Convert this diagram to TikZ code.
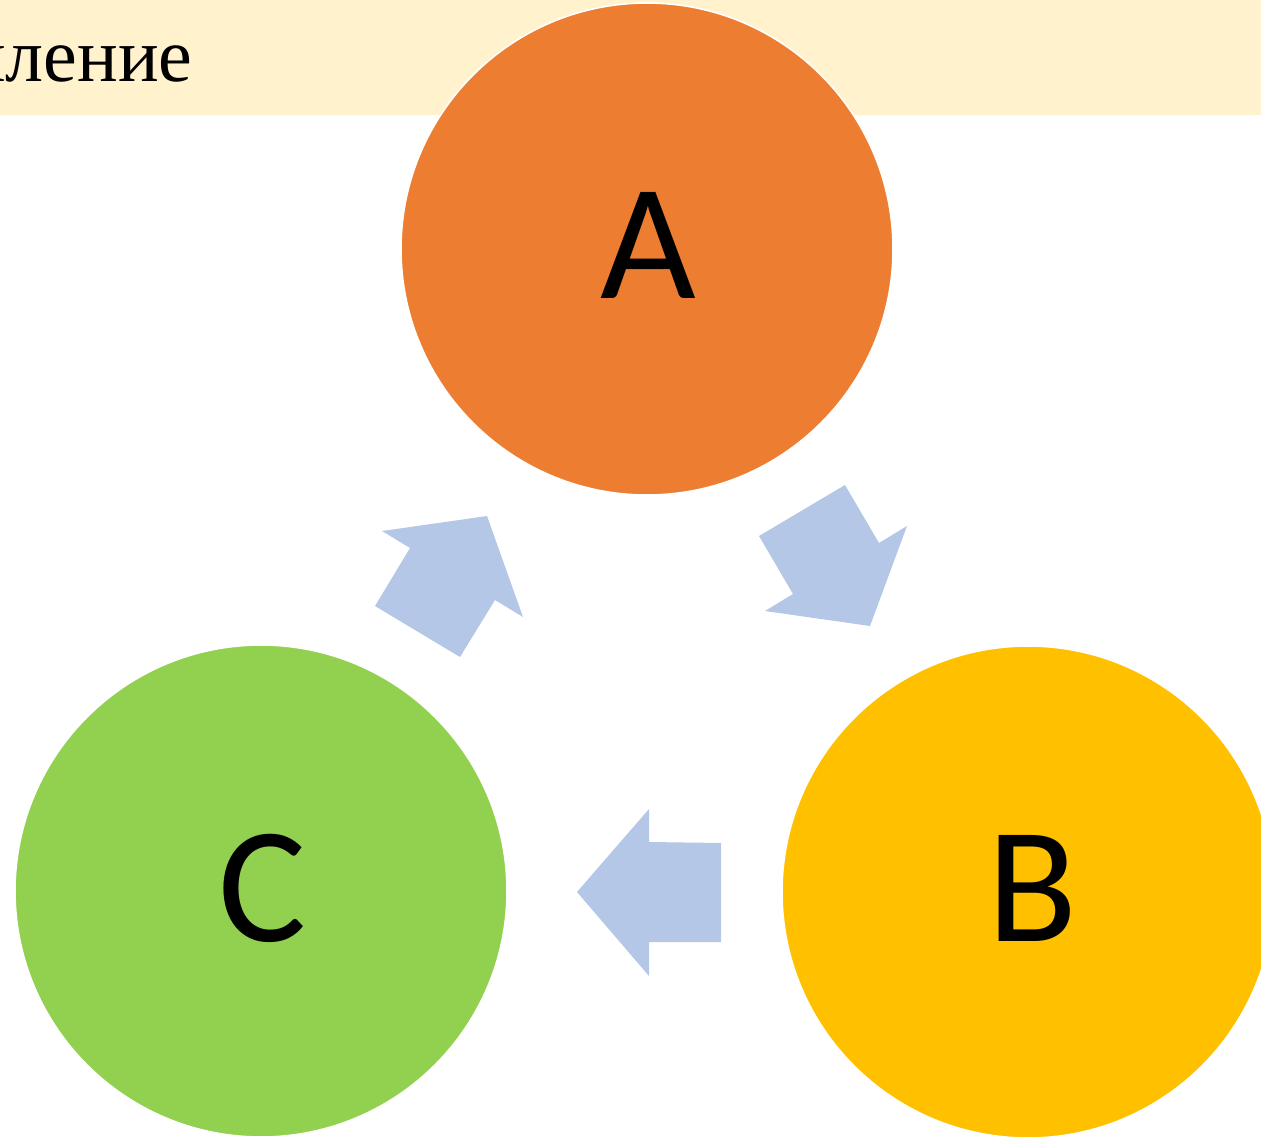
\documentclass[tikz,border=0pt]{standalone}
\usepackage{fontspec}
\setmainfont{Liberation Serif}
\newfontfamily\lettfont{Carlito}
\definecolor{bandcol}{HTML}{FFF2CC}
\definecolor{acol}{HTML}{ED7D31}
\definecolor{bcol}{HTML}{FFC000}
\definecolor{ccol}{HTML}{92D050}
\definecolor{arrcol}{HTML}{B4C7E7}
\begin{document}
\begin{tikzpicture}[x=0.75pt,y=-0.75pt,
  circ/.style={circle,draw=white,line width=1.2pt,inner sep=0pt,minimum size=369pt},
  letter/.style={font=\lettfont\fontsize{124}{124}\selectfont,text=black,inner sep=0pt,anchor=base},
  blockarrow/.style={fill=arrcol,draw=none}]
\useasboundingbox (0,0) rectangle (1261,1138);
\clip (0,0) rectangle (1261,1138);
\fill[bandcol] (0,0) rectangle (1261,115);
\node[anchor=base east,inner sep=0pt,font=\fontsize{57}{57}\selectfont] (title) at (193,82) {иление};
\node[circ,fill=acol] (A) at (647,249) {};
\node[circ,fill=bcol] (B) at (1028,892) {};
\node[circ,fill=ccol] (C) at (261,891) {};
\node[letter] (la) at (648,298) {A};
\node[letter] (lb) at (1032,941) {B};
\node[letter] (lc) at (263,941) {C};
% arrows
\fill[blockarrow] (375,606) -- (410,548) -- (382,531) -- (487,516) -- (523,617) -- (495,600) -- (460,657) -- cycle;
\fill[blockarrow] (759,536) -- (845,485) -- (879,543) -- (907,526) -- (870,626) -- (765,611) -- (793,594) -- cycle;
\fill[blockarrow] (721,843) -- (649,842) -- (649,809) -- (577,892) -- (649,976) -- (649,942) -- (721,942) -- cycle;
\end{tikzpicture}
\end{document}
